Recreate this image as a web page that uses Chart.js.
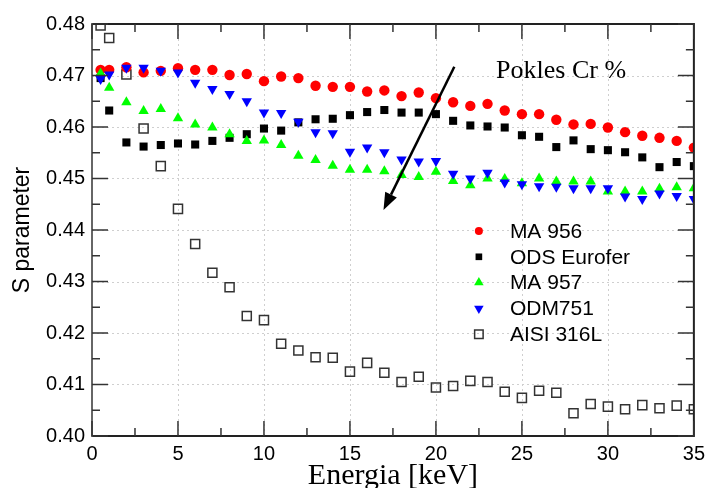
<!DOCTYPE html>
<html>
<head>
<meta charset="utf-8">
<title>S parameter</title>
<script src="https://cdn.jsdelivr.net/npm/chart.js"></script>
<style>
  html, body { margin: 0; padding: 0; background: #fff; }
  canvas { display: block; }
</style>
</head>
<body>
<canvas id="myChart" width="711" height="488"></canvas>
<script>
// beam energy [keV]
const energy = [0.5, 1, 2, 3, 4, 5, 6, 7, 8, 9, 10, 11, 12, 13, 14, 15, 16, 17,
                18, 19, 20, 21, 22, 23, 24, 25, 26, 27, 28, 29, 30, 31, 32, 33, 34, 35];

const ma956 = [0.4711, 0.4711, 0.4716, 0.4706, 0.4709, 0.4714, 0.4711, 0.4711, 0.4701, 0.4703,
               0.4689, 0.4698, 0.4695, 0.4680, 0.4678, 0.4678, 0.4669, 0.4671, 0.4660, 0.4667,
               0.4656, 0.4648, 0.4641, 0.4645, 0.4632, 0.4625, 0.4625, 0.4614, 0.4605, 0.4606,
               0.4599, 0.4590, 0.4583, 0.4579, 0.4573, 0.4560];

const odsEurofer = [0.4695, 0.4632, 0.4570, 0.4562, 0.4565, 0.4568, 0.4566, 0.4573, 0.4579, 0.4586,
                    0.4597, 0.4593, 0.4609, 0.4615, 0.4616, 0.4623, 0.4629, 0.4633, 0.4628, 0.4628,
                    0.4625, 0.4612, 0.4603, 0.4601, 0.4599, 0.4584, 0.4581, 0.4561, 0.4574, 0.4557,
                    0.4555, 0.4551, 0.4541, 0.4522, 0.4532, 0.4524];

const ma957 = [0.4704, 0.4676, 0.4648, 0.4631, 0.4635, 0.4617, 0.4605, 0.4599, 0.4586, 0.4573,
               0.4574, 0.4565, 0.4544, 0.4536, 0.4525, 0.4517, 0.4517, 0.4514, 0.4507, 0.4503,
               0.4513, 0.4495, 0.4487, 0.4500, 0.4499, 0.4491, 0.4500, 0.4494, 0.4494, 0.4494,
               0.4475, 0.4475, 0.4475, 0.4480, 0.4483, 0.4481];

const odm751 = [0.4693, 0.4702, 0.4715, 0.4715, 0.4709, 0.4706, 0.4686, 0.4674, 0.4664, 0.4650,
                0.4628, 0.4627, 0.4610, 0.4590, 0.4588, 0.4552, 0.4560, 0.4551, 0.4537, 0.4533,
                0.4534, 0.4509, 0.4500, 0.4511, 0.4492, 0.4489, 0.4485, 0.4484, 0.4481, 0.4481,
                0.4481, 0.4465, 0.4460, 0.4471, 0.4466, 0.4460];

const aisi316L = [0.4797, 0.4773, 0.4702, 0.4597, 0.4524, 0.4441, 0.4373, 0.4317, 0.4289, 0.4233,
                  0.4225, 0.4179, 0.4166, 0.4153, 0.4152, 0.4125, 0.4142, 0.4123, 0.4105, 0.4115,
                  0.4094, 0.4097, 0.4107, 0.4105, 0.4086, 0.4074, 0.4088, 0.4084, 0.4044, 0.4062,
                  0.4057, 0.4052, 0.4060, 0.4054, 0.4059, 0.4052];

const seriesNames = ['MA 956', 'ODS Eurofer', 'MA 957', 'ODM751', 'AISI 316L'];

// arrow from (x, S) to (x, S) and its caption
const arrowFrom = [21.07, 0.4717];
const arrowTo = [16.95, 0.4439];
const arrowText = 'Pokles Cr %';
const arrowTextAt = [23.5, 0.4695];

const SANS = '"Liberation Sans", Arial, Helvetica, sans-serif';
const SERIF = '"Liberation Serif", "Times New Roman", Times, serif';

function pts(ys) {
  return ys.map((v, i) => ({ x: energy[i], y: v }));
}

// legend marker look (smaller than the data markers)
const legendMarks = [
  { pointStyle: 'circle', radius: 4, rotation: 0, fill: '#ff0000', stroke: '#ff0000', borderWidth: 0 },
  { pointStyle: 'rect', radius: 4.7, rotation: 0, fill: '#000000', stroke: '#000000', borderWidth: 0 },
  { pointStyle: 'triangle', radius: 5.5, rotation: 0, fill: '#00ff00', stroke: '#00ff00', borderWidth: 0 },
  { pointStyle: 'triangle', radius: 5.5, rotation: 180, fill: '#0000ff', stroke: '#0000ff', borderWidth: 0 },
  { pointStyle: 'rect', radius: 6, rotation: 0, fill: 'rgba(255,255,255,0)', stroke: '#333333', borderWidth: 1.5 }
];

// dotted grid under the markers
const gridLines = {
  id: 'gridLines',
  beforeDatasetsDraw(chart) {
    const { ctx, chartArea: a, scales: { x, y } } = chart;
    ctx.save();
    ctx.strokeStyle = '#cfcfcf';
    ctx.lineWidth = 1;
    ctx.setLineDash([2, 3]);
    x.ticks.forEach(t => {
      const px = Math.round(x.getPixelForValue(t.value)) + 0.5;
      if (px <= a.left + 2 || px >= a.right - 2) return;
      ctx.beginPath(); ctx.moveTo(px, a.top); ctx.lineTo(px, a.bottom); ctx.stroke();
    });
    y.ticks.forEach(t => {
      const py = Math.round(y.getPixelForValue(t.value)) + 0.5;
      if (py <= a.top + 2 || py >= a.bottom - 2) return;
      ctx.beginPath(); ctx.moveTo(a.left, py); ctx.lineTo(a.right, py); ctx.stroke();
    });
    ctx.restore();
  }
};

// box, inward ticks on all four sides, arrow with caption, legend
const decorations = {
  id: 'decorations',
  afterDatasetsDraw(chart) {
    const { ctx, chartArea: a, scales: { x, y } } = chart;
    ctx.save();

    // frame
    ctx.lineWidth = 2;
    ctx.strokeStyle = '#222';
    ctx.beginPath();
    ctx.moveTo(a.left, a.top); ctx.lineTo(a.right, a.top); ctx.lineTo(a.right, a.bottom); ctx.lineTo(a.left, a.bottom);
    ctx.stroke();
    ctx.strokeStyle = '#666';
    ctx.beginPath(); ctx.moveTo(a.left, a.top - 1); ctx.lineTo(a.left, a.bottom + 1); ctx.stroke();

    // tick marks
    ctx.lineWidth = 1.5;
    ctx.strokeStyle = '#333';
    const xv = x.ticks.map(t => t.value);
    const yv = y.ticks.map(t => t.value);
    const tickX = (v, len) => {
      const px = x.getPixelForValue(v);
      ctx.beginPath(); ctx.moveTo(px, a.bottom); ctx.lineTo(px, a.bottom - len); ctx.stroke();
      ctx.beginPath(); ctx.moveTo(px, a.top); ctx.lineTo(px, a.top + len); ctx.stroke();
    };
    const tickY = (v, len) => {
      const py = y.getPixelForValue(v);
      ctx.beginPath(); ctx.moveTo(a.left, py); ctx.lineTo(a.left + len, py); ctx.stroke();
      ctx.beginPath(); ctx.moveTo(a.right, py); ctx.lineTo(a.right - len, py); ctx.stroke();
    };
    xv.forEach((v, i) => {
      tickX(v, 15);
      if (i < xv.length - 1) tickX((v + xv[i + 1]) / 2, 8);
    });
    yv.forEach((v, i) => {
      tickY(v, 16);
      if (i < yv.length - 1) tickY((v + yv[i + 1]) / 2, 8);
    });

    // arrow
    const x0 = x.getPixelForValue(arrowFrom[0]), y0 = y.getPixelForValue(arrowFrom[1]);
    const x1 = x.getPixelForValue(arrowTo[0]), y1 = y.getPixelForValue(arrowTo[1]);
    const ang = Math.atan2(y1 - y0, x1 - x0);
    const headLen = 17, headHalf = 6.5;
    const bx = x1 - headLen * Math.cos(ang), by = y1 - headLen * Math.sin(ang);
    ctx.strokeStyle = '#000';
    ctx.fillStyle = '#000';
    ctx.lineWidth = 2.5;
    ctx.beginPath(); ctx.moveTo(x0, y0); ctx.lineTo(bx, by); ctx.stroke();
    ctx.beginPath();
    ctx.moveTo(x1, y1);
    ctx.lineTo(bx + headHalf * Math.sin(ang), by - headHalf * Math.cos(ang));
    ctx.lineTo(bx - headHalf * Math.sin(ang), by + headHalf * Math.cos(ang));
    ctx.closePath();
    ctx.fill();

    ctx.font = '26px ' + SERIF;
    ctx.textAlign = 'left';
    ctx.textBaseline = 'alphabetic';
    ctx.fillText(arrowText, x.getPixelForValue(arrowTextAt[0]), y.getPixelForValue(arrowTextAt[1]));

    // legend
    const markX = a.right - 215, textX = a.right - 184;
    let rowY = a.top + 207;
    ctx.font = '21px ' + SANS;
    ctx.textBaseline = 'middle';
    chart.data.datasets.forEach((ds, i) => {
      const m = legendMarks[i];
      ctx.fillStyle = m.fill;
      ctx.strokeStyle = m.stroke;
      ctx.lineWidth = m.borderWidth;
      Chart.helpers.drawPoint(ctx, m, markX, rowY);
      ctx.fillStyle = '#000';
      ctx.fillText(ds.label, textX, rowY + 1);
      rowY += 25.8;
    });

    ctx.restore();
  }
};

const ctx = document.getElementById('myChart').getContext('2d');

new Chart(ctx, {
  type: 'scatter',
  data: {
    datasets: [
      { label: seriesNames[0], data: pts(ma956), order: 4, clip: 0,
        pointStyle: 'circle', pointRadius: 5.2, backgroundColor: '#ff0000', borderColor: '#ff0000', borderWidth: 0 },
      { label: seriesNames[1], data: pts(odsEurofer), order: 3, clip: 0,
        pointStyle: 'rect', pointRadius: 5.7, backgroundColor: '#000000', borderColor: '#000000', borderWidth: 0 },
      { label: seriesNames[2], data: pts(ma957), order: 2, clip: 0,
        pointStyle: 'triangle', pointRadius: 6, backgroundColor: '#00ff00', borderColor: '#00ff00', borderWidth: 0 },
      { label: seriesNames[3], data: pts(odm751), order: 1, clip: 0,
        pointStyle: 'triangle', pointRotation: 180, pointRadius: 6, backgroundColor: '#0000ff', borderColor: '#0000ff', borderWidth: 0 },
      { label: seriesNames[4], data: pts(aisi316L), order: 5, clip: 0,
        pointStyle: 'rect', pointRadius: 6.4, backgroundColor: 'rgba(255,255,255,0)', borderColor: '#333333', borderWidth: 1.5 }
    ]
  },
  options: {
    responsive: false,
    animation: false,
    layout: { padding: { left: 0, right: 16, top: 24, bottom: 0 } },
    plugins: {
      legend: { display: false },
      tooltip: { enabled: false }
    },
    scales: {
      x: {
        type: 'linear',
        min: 0,
        max: 35,
        grid: { display: false, drawTicks: false },
        border: { display: false },
        ticks: { stepSize: 5, padding: 6, color: '#000', maxRotation: 0, autoSkip: false,
                 font: { family: SANS, size: 20 } },
        title: { display: true, text: 'Energia [keV]', color: '#000',
                 font: { family: SERIF, size: 30, lineHeight: 0.8 }, padding: { top: 0, bottom: 0 } },
        afterFit(scale) { scale.height = 52; }
      },
      y: {
        type: 'linear',
        min: 0.40,
        max: 0.48,
        grid: { display: false, drawTicks: false },
        border: { display: false },
        ticks: { stepSize: 0.01, padding: 7, color: '#000', autoSkip: false,
                 font: { family: SANS, size: 20 },
                 callback: v => v.toFixed(2) },
        title: { display: true, text: 'S parameter', color: '#000',
                 font: { family: SANS, size: 23 }, padding: { top: 9, bottom: 0 } },
        afterFit(scale) { scale.width = 92; }
      }
    }
  },
  plugins: [gridLines, decorations]
});
</script>
</body>
</html>
